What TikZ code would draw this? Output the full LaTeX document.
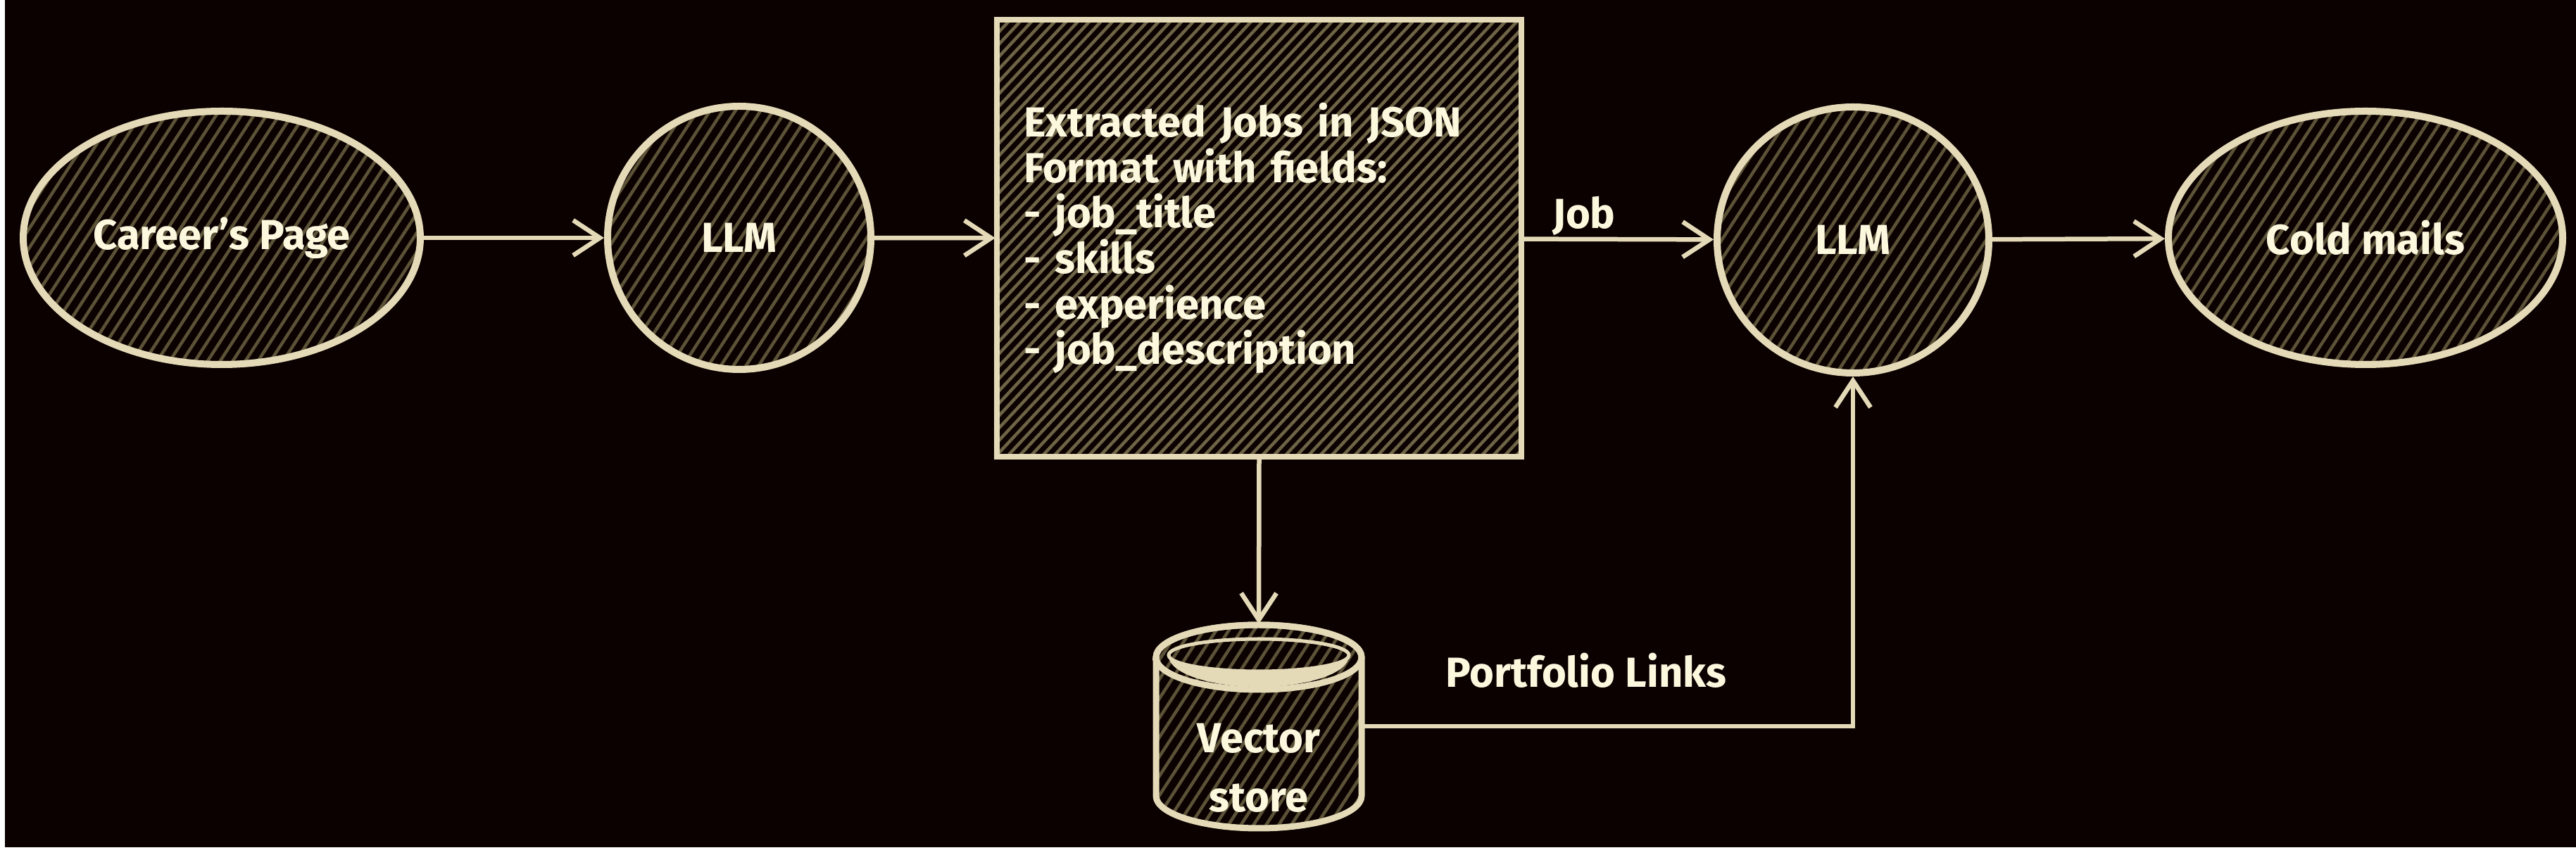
\documentclass[tikz,border=0pt]{standalone}
\usepackage{fontspec}
\setmainfont{Fira Sans}
\usetikzlibrary{arrows.meta,patterns.meta,shapes.geometric,positioning}
\definecolor{bg}{RGB}{11,1,0}
\definecolor{chalk}{RGB}{228,218,184}
\definecolor{ink}{RGB}{252,248,222}
\definecolor{hatch}{RGB}{92,82,55}
\definecolor{hatchbox}{RGB}{110,100,70}

\begin{document}
\begin{tikzpicture}[
        bubble/.style={ellipse,draw=chalk,line width=1mm,inner sep=0pt,
            pattern={Lines[angle=57,distance=1.5mm,line width=0.45mm]},pattern color=hatch},
        jobbox/.style={rectangle,draw=chalk,line width=0.75mm,inner sep=0pt,
            minimum width=7.45cm,minimum height=6.21cm,text width=6.69cm,align=left,
            pattern={Lines[angle=47,distance=1.2mm,line width=0.45mm]},pattern color=hatchbox},
        flow/.style={draw=chalk,line width=0.65mm,-{Straight Barb[length=3.8mm,width=5mm]}},
        tag/.style={text=ink,font=\fontsize{17}{18.4}\selectfont\bfseries}
    ]
    \useasboundingbox (0,0) rectangle (36.59,12.15);
    \fill[white] (0,0) rectangle (36.59,12.15);
    \fill[bg] (0.07,0.11) rectangle (36.59,12.15);

    % Knoten
    \node[bubble,tag,minimum width=5.64cm,minimum height=3.6cm] (career) at (3.15,8.77) {Career's Page};
    \node[bubble,tag,minimum width=3.74cm,minimum height=3.74cm] (llm1) at (10.5,8.77) {LLM};
    \node[jobbox,tag] (jobs) at (17.885,8.765) {Extracted Jobs in JSON\\Format with fields:\\- job\_title\\- skills\\- experience\\- job\_description};
    \node[bubble,tag,minimum width=3.86cm,minimum height=3.78cm] (llm2) at (26.32,8.74) {LLM};
    \node[bubble,tag,minimum width=5.6cm,minimum height=3.6cm] (mails) at (33.6,8.77) {Cold mails};

    % Vector store
    \node[minimum width=2.92cm,minimum height=2.89cm,inner sep=0pt] (vs) at (17.88,1.83) {};
    \filldraw[draw=chalk,line width=0.9mm,pattern={Lines[angle=57,distance=1.5mm,line width=0.45mm]},pattern color=hatch]
        (16.42,2.81) -- (16.42,0.84) arc[start angle=180,end angle=360,x radius=1.46,y radius=0.46]
        -- (19.34,2.81) arc[start angle=0,end angle=180,x radius=1.46,y radius=0.46] -- cycle;
    \draw[chalk,line width=0.9mm] (17.88,2.81) ellipse[x radius=1.46,y radius=0.46];
    \draw[chalk,line width=0.5mm] (17.88,2.84) ellipse[x radius=1.28,y radius=0.23];
    \fill[chalk] (16.6,2.83) arc[start angle=180,end angle=360,x radius=1.28,y radius=0.22]
        arc[start angle=0,end angle=-180,x radius=1.28,y radius=0.44] -- cycle;
    \node[tag,align=center,font=\fontsize{17}{24}\selectfont\bfseries] (vstext) at (17.88,1.24) {Vector\\store};

    % Pfeile
    \draw[flow] (career) -- (llm1);
    \draw[flow] (llm1) -- (jobs);
    \draw[flow] (jobs) -- node[tag,pos=0.32,above=-1mm] (joblabel) {Job} (llm2);
    \draw[flow] (llm2) -- (mails);
    \draw[flow] (jobs.south) -- (vs.north);
    \draw[flow] (vs.east) -| node[tag,pos=0.228,above=4mm] (linklabel) {Portfolio Links} (llm2.south);
\end{tikzpicture}
\end{document}
